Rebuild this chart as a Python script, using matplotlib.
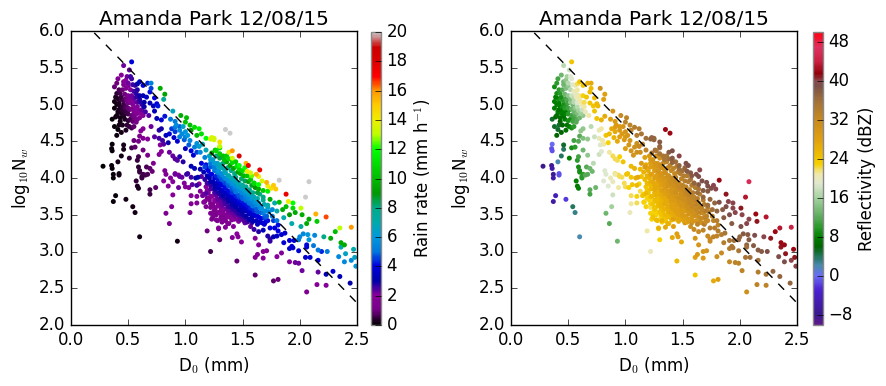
import numpy as np
import matplotlib
matplotlib.use('Agg')
import matplotlib.pyplot as plt
from matplotlib.colors import LinearSegmentedColormap, Normalize
from matplotlib.cm import ScalarMappable

# points, grouped by region of the cloud
# top of the column, near the dashed line
d0_top = [.53,.46,.51,.44,.49,.41,.53,.46,.40,.38,.50,.56,.60,.63,.67,.70,.78,.82,.81,.70,
          .69,.73,.75,.76,.72,.69,.73,.75,.68,.82,.79,.89,.96,1.01,1.0,.87,.91,.95]
nw_top = [5.58,5.53,5.47,5.40,5.38,5.35,5.35,5.31,5.29,5.24,5.29,5.26,5.31,5.26,5.29,5.29,5.22,5.14,5.07,5.22,
          5.17,5.09,5.01,4.98,4.98,5.02,4.91,4.81,4.85,4.84,4.79,4.91,4.85,4.82,4.76,4.80,4.77,4.70]
rain_top = [4.0,2.2,2.3,1.9,2.2,1.4,2.5,1.7,1.0,.9,2.2,2.6,3.5,4.0,4.3,5.3,9.6,9.3,7.6,4.6,
            4.1,4.0,4.0,4.2,3.5,3.2,3.3,3.2,2.4,4.2,3.9,6.6,9.6,10,10.2,5.0,5.2,4.8]
refl_top = [24,17,18,13,16,11,19,13,10,9,17,20,24,24,26,27,31,28,28,25,
            25,25,25,25,24,24,24,24,21,27,26,30,32,33,33,28,29,29]

# dense part of the column
d0_col = [.45,.48,.52,.55,.58,.43,.47,.50,.53,.57,.60,.63,.66,.41,.44,.46,.49,.52,.55,.58,.61,.64,
          .38,.40,.43,.45,.47,.50,.53,.56,.59,.62,.65,.38,.41,.44,.47,.50,.53,.56,.60,.63,
          .43,.47,.50,.54,.57,.36,.39,.38,.41,.44,.48,.53,.55,.40,.36,.355,.36,.46,.46,.44,
          .51,.53,.56,.59,.60,.55,.59,.58,.63,.67,.28,.355,.36,.41,.42,.59,.60,.66,.69,.65,.62]
nw_col = [5.2,5.22,5.2,5.18,5.2,5.15,5.14,5.12,5.12,5.1,5.12,5.12,5.1,5.08,5.07,5.05,5.05,5.03,5.03,5.03,5.03,5.03,
          5.04,5.0,4.97,4.96,4.95,4.95,4.94,4.95,4.92,4.93,4.9,4.95,4.9,4.88,4.87,4.87,4.85,4.86,4.82,4.85,
          4.82,4.8,4.78,4.77,4.76,4.8,4.83,4.7,4.66,4.62,4.65,4.68,4.7,4.58,4.46,4.4,4.37,4.45,4.39,4.3,
          4.27,4.41,4.42,4.5,4.57,4.51,4.29,4.24,4.38,4.31,4.16,4.17,4.13,4.22,4.06,4.15,4.1,4.15,4.13,4.04,4.02]
rain_col = [.9,1.4,2.1,2.5,2.8,.6,1.0,1.6,2.2,2.6,2.9,3.2,3.6,.3,.5,.7,1.1,1.7,2.1,2.4,2.7,3.0,
            .2,.2,.3,.4,.6,.9,1.4,1.8,2.0,2.3,2.5,.15,.2,.25,.35,.6,.9,1.3,1.6,2.0,
            .2,.3,.45,.8,1.1,.1,.15,.1,.15,.2,.3,.6,.8,.15,.1,.1,.1,.3,.2,.2,
            .4,.6,.8,1.1,1.2,.9,.6,.5,1.0,1.2,.05,.1,.1,.2,.2,.4,.4,.7,.8,.6,.5]
refl_col = [12,14,17,20,21,10,13,15,18,20,21,23,24,9,10,10,12,15,17,19,21,22,
            8,8,8,9,10,11,13,15,16,18,20,8,8,8,8,10,11,12,13,15,
            7,8,9,11,12,5,6,5,5,6,7,9,10,6,0,-1,-1,5,4,4,
            8,9,10,12,12,11,11,10,13,15,-8,-7,-6,2,-1,9,9,12,13,12,10]

# more of the column, filling the gaps
d0_colb = [.40,.42,.39,.42,.44,.46,.48,.45,.42,.48,.50,.40,.43,.46,.48,.51,.54,.52,.55,.57,
           .60,.62,.58,.55,.58,.61,.64,.52,.55,.58,.49,.45,.42,.51,.46,.50,.54,.58,.48,.52]
nw_colb = [5.15,5.2,5.1,5.02,5.1,5.0,5.08,4.92,4.93,4.97,5.02,4.85,4.77,4.84,4.9,4.93,5.0,5.08,5.08,5.15,
           5.07,5.0,4.97,4.9,4.88,4.88,4.97,4.8,4.82,4.8,4.72,4.72,4.72,4.7,5.27,5.25,5.27,5.28,5.33,5.38]
rain_colb = [.4,.7,.3,.3,.5,.5,.9,.4,.25,.7,1.1,.2,.2,.3,.5,.8,1.6,1.7,2.2,2.7,
             2.8,2.6,2.1,1.5,1.7,2,2.9,.6,1,1.3,.4,.25,.2,.5,1.5,1.9,2.5,3,1.9,2.5]
refl_colb = [9,10,8,8,9,9,11,8,7,10,11,7,6,7,8,10,13,14,17,20,
             21,20,17,13,14,16,21,9,11,12,7,6,5,8,13,15,19,22,15,19]

# purple and blue points between the column and the main cluster
d0_mid = [.61,.63,.63,.67,.70,.73,.77,.79,.77,.80,.81,.85,.83,.86,.91,.88,.91,.95,.95,1.0,1.02,.99,1.04,.98,
          1.08,1.10,1.05,1.07,1.12,1.18,.78,.79,.77,.72,.86,.89,.91,.93,.95,.98,1.05,1.08,1.14,1.17,
          .91,.94,1.02,1.05,1.11,.83,.82,
          .92,.97,1.0,1.03,.93,.90,1.10,1.13,1.15,1.0]
nw_mid = [4.64,4.67,4.54,4.53,4.7,4.56,4.65,4.67,4.54,4.51,4.46,4.48,4.58,4.6,4.63,4.67,4.69,4.65,4.56,4.63,4.58,4.52,4.51,4.7,
          4.42,4.35,4.37,4.31,4.43,4.38,4.45,4.36,4.32,4.2,4.35,4.3,4.26,4.24,4.29,4.22,4.16,4.13,4.2,4.15,
          4.06,4.04,4.06,4.01,4.01,4.05,4.1,
          4.72,4.6,4.56,4.45,4.5,4.55,4.47,4.35,4.46,4.4]
rain_mid = [1.8,1.9,1.6,1.9,2.2,2.4,2.7,2.9,2.5,2.5,2.4,2.9,3.4,3.9,4.5,4.5,5.0,5.5,5.2,6.0,6.0,4.8,5.5,6.5,
            5.2,4.6,4.0,3.8,6.3,6.8,2.0,1.9,1.7,1.6,2.2,2.3,2.4,2.4,2.8,2.8,3.2,3.3,4.0,4.6,
            2.0,2.0,2.6,2.5,3.2,1.5,1.6,
            5.7,5.5,5.3,4.8,3.8,3.6,5.8,5.6,7,3.4]
refl_mid = [15,15,14,15,17,18,20,21,20,21,21,23,24,25,27,27,28,29,28,30,30,29,30,30,
            31,31,30,30,32,33,19,19,18,17,21,22,22,22,23,24,25,26,29,29,
            22,22,24,24,27,19,19,
            29,29,29,30,27,26,31,31,33,28]

# green band just above the dashed line
d0_band = [1.04,1.08,1.12,1.14,1.10,1.05,1.18,1.22,1.25,1.26,1.23,1.30,
           1.36,1.33,1.34,1.38,1.30,1.27,1.44,1.47,1.50,1.52,1.47,1.41]
nw_band = [4.72,4.69,4.67,4.6,4.58,4.65,4.54,4.53,4.52,4.38,4.34,4.41,
           4.3,4.3,4.25,4.26,4.33,4.37,4.22,4.12,4.1,4.14,4.17,4.24]
rain_band = [10,11,11.5,11,10,9,12,13.5,13.5,10.5,9,11,
             10.5,10,10.2,11,10.5,11,10.5,11,11,12,12,11]
refl_band = [33,34,34,35,34,33,36,37,37,36,35,36,
             35,35,35,36,35,35,36,36,36,37,37,36]

# low rain rate points below the column
d0_low = [.37,.37,.42,.57,.60,.62,.63,.67,.71,.58,.59,.69,.69,.74,.39,.37,.48,.54,.56,.60,.93]
nw_low = [4.05,4.0,4.04,3.96,4.08,4.0,4.05,4.05,4.09,3.89,3.86,3.84,3.78,3.87,3.76,3.68,3.71,3.61,3.53,3.2,3.14]
rain_low = [.1,.1,.2,.4,.5,.5,.6,.7,.9,.3,.3,.6,.5,.8,.1,.1,.2,.2,.2,.2,.2]
refl_low = [-7,-6,-1,8,9,10,10,12,13,8,8,12,11,13,-5,-6,-2,4,3,2,13]

d0_pur = [.89,.88,.83,.86,.81,.85,.94,.87,.89,.91,.95,.97,1.01,.99,1.0,1.03,1.06,1.10,1.09,1.05,1.10,1.05,1.10,1.04,
          1.15,1.18,1.16,1.18,1.22,1.23,1.28,1.19,1.29]
nw_pur = [3.77,3.61,3.52,3.38,3.96,3.89,3.87,4.0,3.95,4.05,4.02,4.01,4.05,3.93,3.88,3.87,3.91,3.9,4.0,3.76,3.75,3.65,3.66,3.53,
          3.76,3.79,3.67,3.61,3.52,3.44,3.42,3.28,3.31]
rain_pur = [2,1.5,1.4,1.2,2,2,2.2,2,2.1,2.2,2.2,2.3,2.6,2.1,2,2.1,2.4,2.6,3,1.8,2,1.6,1.7,1.3,
            2.2,2.4,1.8,1.6,1.4,1.2,1.4,1,1.2]
refl_pur = [18,16,13,12,19,19,21,20,20,21,22,22,24,22,22,23,24,25,26,22,23,21,22,20,
            24,25,23,23,23,23,24,21,23]

# main cluster
d0_main = [1.13,1.14,1.12,1.13,
           1.17,1.18,1.16,1.17,1.18,1.16,1.17,
           1.21,1.22,1.2,1.21,1.22,1.2,1.21,1.22,
           1.24,1.25,1.23,1.24,1.25,1.23,1.24,1.25,
           1.27,1.28,1.26,1.27,1.28,1.26,1.27,1.28,1.26,1.27,
           1.3,1.31,1.29,1.3,1.31,1.29,1.3,1.31,1.29,1.3,1.31,
           1.33,1.34,1.32,1.33,1.34,1.32,1.33,1.34,1.32,1.33,1.34,1.32,
           1.36,1.37,1.35,1.36,1.37,1.35,1.36,1.37,1.35,1.36,1.37,1.35,
           1.39,1.4,1.38,1.39,1.4,1.38,1.39,1.4,1.38,1.39,1.4,1.38,
           1.42,1.43,1.41,1.42,1.43,1.41,1.42,1.43,1.41,1.42,1.43,
           1.45,1.46,1.44,1.45,1.46,1.44,1.45,1.46,1.44,1.45,1.46,
           1.48,1.49,1.47,1.48,1.49,1.47,1.48,1.49,1.47,1.48,
           1.51,1.52,1.5,1.51,1.52,1.5,1.51,1.52,1.5,1.51,
           1.54,1.55,1.53,1.54,1.55,1.53,1.54,1.55,1.53,1.54,
           1.57,1.58,1.56,1.57,1.58,1.56,1.57,1.58,1.56,
           1.6,1.61,1.59,1.6,1.61,1.59,1.6,1.61,1.59,
           1.64,1.65,1.63,1.64,1.65,1.63,1.64,1.65,
           1.68,1.69,1.67,1.68,1.69,1.67,
           1.72,1.73,1.71,1.72,
           1.76,1.77,1.8,1.81]
nw_main = [4.12,4.02,3.92,3.82,
           4.28,4.18,4.08,3.98,3.88,3.78,3.68,
           4.3,4.2,4.1,4.0,3.9,3.8,3.7,3.6,
           4.25,4.15,4.05,3.95,3.85,3.75,3.65,3.55,
           4.3,4.2,4.12,4.03,3.94,3.85,3.76,3.67,3.58,3.5,
           4.27,4.18,4.1,4.02,3.94,3.86,3.78,3.7,3.62,3.54,3.46,
           4.2,4.12,4.04,3.97,3.9,3.83,3.76,3.69,3.62,3.55,3.47,3.4,
           4.22,4.14,4.07,4.0,3.93,3.86,3.79,3.72,3.65,3.58,3.5,3.42,
           4.17,4.1,4.03,3.96,3.89,3.82,3.75,3.68,3.61,3.54,3.46,3.38,
           4.13,4.06,4.0,3.93,3.86,3.8,3.74,3.67,3.6,3.52,3.44,
           4.16,4.08,4.01,3.94,3.88,3.81,3.75,3.68,3.61,3.53,3.44,
           4.06,3.99,3.93,3.87,3.8,3.74,3.67,3.6,3.52,3.44,
           4.03,3.96,3.9,3.84,3.78,3.72,3.65,3.58,3.5,3.42,
           4.03,3.95,3.88,3.82,3.76,3.7,3.63,3.56,3.48,3.4,
           3.98,3.9,3.84,3.78,3.72,3.66,3.59,3.52,3.44,
           3.93,3.87,3.8,3.74,3.68,3.62,3.56,3.49,3.41,
           3.85,3.78,3.72,3.66,3.6,3.54,3.47,3.4,
           3.7,3.64,3.58,3.52,3.46,3.39,
           3.6,3.54,3.48,3.42,
           3.48,3.42,3.42,3.36]
rain_main = [3.1,2.4,2,1.6,
             5.3,4.2,3.3,2.7,2.1,1.7,1.4,
             6.5,5.1,4,3.2,2.6,2.1,1.6,1.3,
             6.4,5,4,3.2,2.5,2,1.6,1.3,
             8.1,6.4,5.3,4.3,3.5,2.9,2.3,1.9,1.5,1.3,
             8.5,6.9,5.8,4.8,4,3.3,2.8,2.3,1.9,1.6,1.4,
             8.1,6.8,5.6,4.8,4,3.5,3,2.5,2.2,1.8,1.5,1.3,
             9.5,7.8,6.7,5.7,4.9,4.1,3.5,3,2.5,2.2,1.8,1.5,
             9.3,7.9,6.8,5.8,4.9,4.1,3.5,3,2.6,2.2,1.8,1.5,
             9.4,7.9,6.9,5.9,5,4.4,3.8,3.2,2.8,2.3,1.9,
             11,9.2,7.8,6.7,5.8,5,4.3,3.7,3.2,2.6,2.1,
             9.6,8.2,7.1,6.2,5.3,4.6,4,3.3,2.8,2.3,
             9.8,8.4,7.3,6.3,5.5,4.9,4.1,3.5,2.9,2.4,
             10.3,8.8,7.5,6.6,5.7,5,4.2,3.6,3,2.5,
             10.4,8.7,7.6,6.6,5.8,5,4.3,3.6,3.1,
             10.3,9,7.7,6.7,5.8,5,4.4,3.7,3.2,
             9.5,8.1,7.1,6.2,5.4,4.7,4,3.4,
             7.7,6.7,5.8,5,4.4,3.7,
             6.3,5.4,4.8,4.1,
             5.2,4.5,5,4.1]
refl_main = [25,24,23,22,
             28,27,26,25,24,23,22,
             29,28,27,26,25,24,23,22,
             30,29,28,27,26,25,24,23,
             31,30,29,28,27,27,26,25,24,23,
             31,31,30,29,28,27,27,26,25,24,23,
             32,31,30,29,29,28,27,26,26,25,24,23,
             33,32,31,30,30,29,28,27,27,26,25,24,
             33,32,31,31,30,29,29,28,27,27,26,25,
             33,32,32,31,30,30,29,28,28,27,26,
             34,33,33,32,31,31,30,29,28,28,27,
             34,33,32,32,31,31,30,29,28,27,
             34,34,33,32,32,31,30,29,29,28,
             34,34,33,33,32,31,31,30,29,28,
             35,34,33,33,32,32,31,30,29,
             35,34,34,33,32,32,31,31,30,
             35,34,34,33,32,32,31,31,
             34,34,33,32,32,31,
             34,33,33,32,
             33,33,34,33]

# cluster points sitting between the ones above
d0_fill = [1.19,1.19,1.19,1.19,1.19,
           1.22,1.22,1.22,1.22,1.22,1.22,1.22,
           1.255,1.255,1.255,1.255,1.255,1.255,1.255,1.255,
           1.285,1.285,1.285,1.285,1.285,1.285,1.285,1.285,
           1.315,1.315,1.315,1.315,1.315,1.315,1.315,1.315,1.315,
           1.345,1.345,1.345,1.345,1.345,1.345,1.345,1.345,1.345,1.345,
           1.375,1.375,1.375,1.375,1.375,1.375,1.375,1.375,1.375,
           1.405,1.405,1.405,1.405,1.405,1.405,1.405,1.405,1.405,
           1.435,1.435,1.435,1.435,1.435,1.435,1.435,1.435,
           1.465,1.465,1.465,1.465,1.465,1.465,1.465,1.465,
           1.495,1.495,1.495,1.495,1.495,1.495,1.495,
           1.525,1.525,1.525,1.525,1.525,1.525,
           1.555,1.555,1.555,1.555,1.555,1.555,
           1.585,1.585,1.585,1.585,1.585,
           1.62,1.62,1.62,1.62,1.62,
           1.66,1.66,1.66,
           1.7,1.7,1.7]
nw_fill = [4.13,4.03,3.93,3.83,3.73,
           4.25,4.15,4.05,3.95,3.85,3.75,3.65,
           4.2,4.1,4.0,3.9,3.8,3.7,3.6,3.5,
           4.16,4.07,3.98,3.89,3.8,3.71,3.62,3.53,
           4.14,4.06,3.98,3.9,3.82,3.74,3.66,3.58,3.5,
           4.08,4.0,3.93,3.86,3.79,3.72,3.65,3.58,3.5,3.44,
           4.03,3.96,3.89,3.82,3.75,3.68,3.61,3.54,3.47,
           3.99,3.92,3.85,3.78,3.71,3.64,3.57,3.5,3.43,
           3.96,3.89,3.83,3.76,3.7,3.63,3.56,3.49,
           3.9,3.84,3.77,3.71,3.64,3.57,3.5,3.41,
           3.87,3.81,3.75,3.69,3.62,3.55,3.47,
           3.81,3.75,3.69,3.62,3.55,3.46,
           3.78,3.72,3.66,3.59,3.51,3.43,
           3.74,3.68,3.62,3.55,3.47,
           3.7,3.64,3.58,3.5,3.42,
           3.6,3.53,3.45,
           3.55,3.47,3.4]
rain_fill = [4.0,3.2,2.5,2.0,1.6,
             6,4.8,3.8,3,2.4,1.9,1.5,
             6.2,4.9,3.9,3.1,2.5,2,1.6,1.2,
             6.4,5.2,4.2,3.4,2.8,2.3,1.8,1.5,
             6.9,5.6,4.7,3.9,3.2,2.7,2.2,1.9,1.6,
             6.5,5.4,4.6,3.9,3.3,2.8,2.4,2,1.7,1.5,
             6.4,5.5,4.7,4,3.4,2.9,2.5,2.1,1.8,
             6.4,5.5,4.7,4,3.4,2.9,2.5,2.1,1.8,
             6.7,5.7,4.9,4.2,3.7,3.1,2.7,2.2,
             6.4,5.5,4.7,4.1,3.5,3,2.5,2.1,
             6.4,5.6,4.9,4.2,3.6,3.1,2.5,
             6,5.3,4.6,3.9,3.3,2.7,
             6.3,5.5,4.8,4.1,3.4,2.8,
             6.2,5.4,4.7,4,3.3,
             6.3,5.5,4.8,4,3.3,
             5.7,4.8,4,
             5.6,4.7,4]
refl_fill = [27,26,25,24,23,
             29,28,27,26,25,24,23,
             30,29,28,27,26,25,24,23,
             30,29,28,27,26,25,24,23,
             31,30,29,28,27,26,26,25,24,
             31,30,29,29,28,27,27,26,25,24,
             31,30,30,29,28,27,27,26,25,
             31,31,30,29,29,28,27,26,26,
             32,31,30,30,29,28,28,27,
             32,31,30,30,29,28,28,27,
             32,31,31,30,30,29,28,
             32,31,31,30,29,28,
             33,32,31,31,30,29,
             33,32,32,31,30,
             33,33,32,31,30,
             33,33,32,
             34,33,32]

# large drop tail and the edge of the cloud
d0_tail = [1.35,1.39,1.23,1.25,1.30,1.30,1.41,1.38,1.47,1.41,1.41,1.53,1.55,1.65,1.54,1.57,1.62,1.64,1.58,
           1.82,2.08,2.05,1.71,1.67,1.77,1.79,1.72,1.75,1.6,1.64,1.68,1.72,1.63,1.88,1.9,1.94,1.82,1.74,1.68,1.78,
           1.72,1.88,1.94,2.01,1.96,2.02,1.91,1.85,1.8,1.76,2.14,2.23,2.08,2.15,2.06,2.01,1.93,1.86,2.35,2.45,
           2.31,2.27,2.21,2.36,2.39,2.36,2.47,2.4,2.34,2.39,2.45,2.48,2.49,2.13,2.07,2.03,2.0,1.99,2.08,2.12,
           2.06,2.06,2.16,2.19,2.24,1.99,1.94,1.91,1.93,1.86,1.91,1.95,2.09,2.05,2.16,2.29,2.23,2.35,2.44,2.16,
           2.02,1.96,1.99,1.91,1.8,1.84,1.68,1.61,1.63,1.68,1.71,1.64,1.61,1.49,1.46,1.45,1.41,1.35,1.29,1.42,
           1.3,1.22,1.45,1.61,1.77,1.81,2.06,2.15,2.23,
           1.72,1.74,1.74,1.77,1.8,1.84,1.87,1.81,1.74,1.78,1.68,1.64,1.6,1.57,1.58,1.63,1.69,1.52,1.48,1.42,1.37,1.32,1.27,1.24]
nw_tail = [4.66,4.61,4.55,4.54,4.49,4.43,4.37,4.35,4.3,4.27,4.21,4.2,4.17,4.11,4.09,4.07,4.05,4.02,4.03,
           3.97,3.95,3.74,3.94,3.96,3.9,3.85,3.89,3.86,3.93,3.91,3.83,3.82,3.8,3.78,3.68,3.66,3.67,3.71,3.74,3.66,
           3.63,3.61,3.59,3.59,3.53,3.5,3.5,3.57,3.55,3.57,3.51,3.47,3.44,3.41,3.38,3.34,3.38,3.46,3.32,3.33,
           3.27,3.18,3.2,3.12,3.09,3.06,3.03,2.97,2.93,2.86,2.88,2.92,2.8,3.22,3.23,3.24,3.2,3.16,3.16,3.08,
           3.09,3.06,3.02,3.0,3.0,3.01,3.05,3.04,3.07,3.12,3.15,3.15,2.92,2.92,2.88,2.73,2.69,2.66,2.57,2.72,
           2.74,2.85,2.84,2.86,2.93,2.98,2.91,2.92,2.96,3.0,3.01,3.09,3.18,3.13,3.2,3.24,3.19,3.33,3.32,3.34,
           3.16,3.0,2.87,2.68,2.6,2.62,2.45,2.55,2.54,
           3.21,3.14,3.17,3.2,3.21,3.23,3.25,3.28,3.32,3.32,3.29,3.27,3.3,3.34,3.39,3.37,3.37,3.39,3.44,3.45,3.38,3.42,3.43,3.47]
rain_tail = [20,20,13.5,13.5,14.5,13,16,14,18,13.5,11,15.5,17.5,17.5,14,13.5,15.5,14,12.5,
             20,20,20,15.5,13.5,15,15,14,14.5,11,12,10.5,11.5,8.5,17.5,14,12,10,9.5,8,7,
             7,10,11,13,9.5,9.5,9,9.5,7,5.5,15.5,16.5,9.5,10.5,9.5,7.5,7,7,13,16,
             10,9.5,8,9.5,9.5,7,7,6.5,5.5,5.5,5.5,6.5,6,5.5,6,5.5,5.5,5,6,5,
             4,4,5,4.3,5.2,3.8,3.6,3.6,3.8,3.8,3.8,4,3.8,3.6,3.6,3.8,3.2,3.3,3,2.3,
             2.2,2.2,2.2,2.1,2,2.1,1.8,1.7,1.8,1.9,2,2,2,1.8,1.9,2,1.8,2,2,2,
             .9,.6,.9,.8,.8,.9,1.5,1.9,1.9,
             2.8,2.6,2.7,3.2,3.5,3.6,3.8,4,4,4,3.3,2.8,2.6,2.3,2.5,3.5,3.9,2.2,2.2,2,1.6,1.6,1.5,1.4]
refl_tail = [42,42,37,37,38,37,39,38,40,38,37,39,39,40,38,38,39,39,38,
             42,46,43,39,39,40,40,39,39,37,38,38,38,36,41,40,40,39,37,37,37,
             36,39,40,41,40,40,39,38,37,36,42,43,40,41,40,39,38,38,43,44,
             42,41,40,42,42,41,42,41,39,39,40,41,40,39,38,38,37,37,38,38,
             37,36,38,38,39,35,35,34,35,34,35,36,36,35,36,37,35,37,37,34,
             33,33,33,32,31,32,29,28,29,30,30,30,30,27,28,28,27,27,26,28,
             23,20,25,24,27,28,31,33,33,
             32,32,32,33,33,34,35,34,34,34,33,32,32,31,32,33,34,30,29,28,26,26,25,24]

line_d0 = [0.0, 2.5]
line_nw = [6.3, 2.3]

x_ticks = [0.0, 0.5, 1.0, 1.5, 2.0, 2.5]
y_ticks = [2.0, 2.5, 3.0, 3.5, 4.0, 4.5, 5.0, 5.5, 6.0]
rain_ticks = list(range(0, 21, 2))
refl_ticks = list(range(-8, 49, 8))

d0 = np.concatenate([d0_main, d0_fill, d0_pur, d0_low, d0_col, d0_colb, d0_mid, d0_top, d0_band, d0_tail])
nw = np.concatenate([nw_main, nw_fill, nw_pur, nw_low, nw_col, nw_colb, nw_mid, nw_top, nw_band, nw_tail])
rain = np.concatenate([rain_main, rain_fill, rain_pur, rain_low, rain_col, rain_colb, rain_mid, rain_top, rain_band, rain_tail])
refl = np.concatenate([refl_main, refl_fill, refl_pur, refl_low, refl_col, refl_colb, refl_mid, refl_top, refl_band, refl_tail])

# heavier rain is drawn over lighter rain
order = np.argsort(rain, kind='stable')
d0, nw, rain, refl = d0[order], nw[order], rain[order], refl[order]

plt.style.use('classic')
plt.rcParams['font.family'] = 'DejaVu Sans'
plt.rcParams['font.size'] = 12

# reflectivity colours
refl_stops = [(-10, '#5f1a8c'), (-8, '#3a1a8c'), (-3, '#4a20d0'), (0, '#6a6cf5'), (2, '#4a8ab0'),
              (3.5, '#2a7a70'), (6, '#006400'), (8, '#008000'), (10, '#2a9a2a'), (12, '#5aaa5a'),
              (16, '#a5d2a0'), (19, '#dfe8d0'), (21, '#f0e8a8'), (23, '#f5d000'), (25, '#eebb00'),
              (28, '#e0a010'), (32, '#c88a20'), (36, '#a0703a'), (39, '#7b5048'), (40, '#8a4a50'),
              (41.5, '#900008'), (44, '#c82040'), (47, '#e03060'), (50, '#ff0010')]
refl_cmap = LinearSegmentedColormap.from_list(
    'refl', [((v + 10) / 60.0, c) for v, c in refl_stops], N=256)

fig = plt.figure(figsize=(8.86, 3.86), dpi=100, facecolor='white')
W, H = 886.0, 386.0


def panel(left, cbar_left, values, cmap, vmin, vmax, ticks, label, pad):
    ax = fig.add_axes([left / W, (H - 325) / H, 286 / W, 294 / H])
    ax.scatter(d0, nw, c=values, cmap=cmap, vmin=vmin, vmax=vmax, s=13, linewidths=0, zorder=2)
    ax.plot(line_d0, line_nw, 'k--', lw=1, zorder=3)
    ax.set_xlim(0, 2.5)
    ax.set_ylim(2, 6)
    ax.set_xticks(x_ticks)
    ax.set_yticks(y_ticks)
    ax.set_xlabel('D$_0$ (mm)', fontsize=12)
    ax.set_ylabel('log$_{10}$N$_w$', fontsize=12)
    ax.set_title('Amanda Park 12/08/15', fontsize=14.4, pad=4)

    cax = fig.add_axes([cbar_left / W, (H - 325) / H, 10 / W, 293 / H])
    sm = ScalarMappable(norm=Normalize(vmin, vmax), cmap=cmap)
    cb = fig.colorbar(sm, cax=cax, ticks=ticks)
    cb.outline.set_edgecolor('#888888')
    cb.outline.set_linewidth(1)
    cb.set_label(label, fontsize=12, labelpad=pad)
    return ax


panel(71, 371, rain, 'nipy_spectral', 0, 20, rain_ticks, 'Rain rate (mm h$^{-1}$)', 3)
panel(511, 813, refl, refl_cmap, -10, 50, refl_ticks, 'Reflectivity (dBZ)', 4)

fig.savefig('out.png', dpi=100, facecolor='white')
